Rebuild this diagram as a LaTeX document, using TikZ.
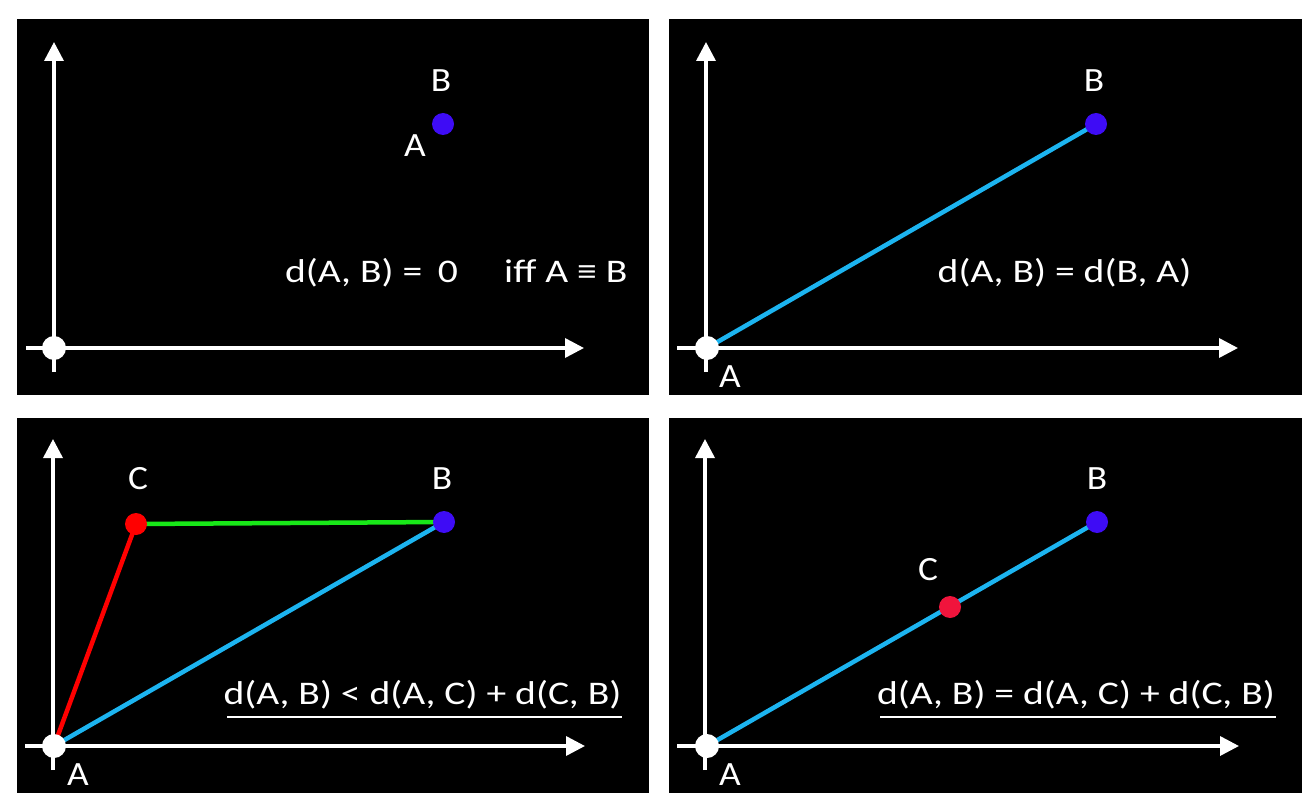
\documentclass[tikz,border=0pt]{standalone}
\usepackage{fontspec}
\usepackage{graphicx}
\setmainfont{Carlito}
\usetikzlibrary{arrows.meta}
\definecolor{lineblue}{RGB}{28,180,240}
\definecolor{dotblue}{RGB}{62,12,245}
\definecolor{dotred}{RGB}{255,0,0}
\definecolor{dotcrimson}{RGB}{240,20,60}
\definecolor{linegreen}{RGB}{24,232,24}
\newcommand{\formula}[1]{\fontsize{33}{38}\selectfont\scalebox{1.2}[1]{#1}}
\newcommand{\lbl}[1]{\fontsize{34}{40}\selectfont\scalebox{1.1}[1]{#1}}
\tikzset{
  panel/.style={fill=black},
  axis/.style={draw=white, line width=3.5pt, -{Triangle[width=19pt,length=19pt]}},
  label/.style={text=white, inner sep=0pt, anchor=base},
  formtext/.style={text=white, inner sep=0pt, anchor=base},
  origin/.style={fill=white, ellipse dot, draw=none},
  ellipse dot/.style={circle, minimum size=24pt, inner sep=0pt},
  bdot/.style={circle, fill=dotblue, minimum size=22pt, inner sep=0pt},
  cdot/.style={circle, fill=#1, minimum size=22pt, inner sep=0pt},
  seg/.style={line width=4.5pt, draw=#1},
  uline/.style={draw=white, line width=1.5pt}
}
\begin{document}
\begin{tikzpicture}[x=1pt,y=-1pt]
\useasboundingbox (0,0) rectangle (1314,810);
\fill[white] (0,0) rectangle (1314,810);
\fill[panel] (17,19) rectangle (649,395);
\fill[panel] (669,19) rectangle (1302,395);
\fill[panel] (17,418) rectangle (649,793);
\fill[panel] (669,418) rectangle (1302,793);

% ---------- panel 1 ----------
\coordinate (p1yb) at (54,372);
\coordinate (p1yt) at (54,42);
\coordinate (p1xl) at (26,348);
\coordinate (p1xr) at (584,348);
\draw[axis] (p1yb) -- (p1yt);
\draw[axis] (p1xl) -- (p1xr);
\node[origin] (p1O) at (54,348) {};
\node[bdot] (p1B) at (443,124) {};
\node[label] (p1Bl) at (441,92) {\lbl{B}};
\node[label] (p1Al) at (415,157) {\lbl{A}};
\node[formtext, anchor=base west] (p1f1) at (285,283) {\formula{d(A, B) =}};
\node[formtext] (p1f2) at (448,283) {\formula{0}};
\node[formtext, anchor=base west] (p1f3) at (504,283) {\formula{iff A ≡ B}};

% ---------- panel 2 ----------
\coordinate (p2yb) at (706,372);
\coordinate (p2yt) at (706,42);
\coordinate (p2xl) at (677,348);
\coordinate (p2xr) at (1238,348);
\coordinate (p2Ac) at (707,348);
\coordinate (p2Bc) at (1096,124);
\draw[axis] (p2yb) -- (p2yt);
\draw[axis] (p2xl) -- (p2xr);
\draw[seg=lineblue] (p2Ac) -- (p2Bc);
\node[origin] (p2O) at (p2Ac) {};
\node[bdot] (p2B) at (p2Bc) {};
\node[label] (p2Bl) at (1094,92) {\lbl{B}};
\node[label] (p2Al) at (730,387) {\lbl{A}};
\node[formtext] (p2f) at (1064.5,283) {\formula{d(A, B) = d(B, A)}};

% ---------- panel 3 ----------
\coordinate (p3yb) at (53,770);
\coordinate (p3yt) at (53,439);
\coordinate (p3xl) at (25,746);
\coordinate (p3xr) at (585,746);
\coordinate (p3Ac) at (54,746);
\coordinate (p3Bc) at (444,522);
\coordinate (p3Cc) at (136,524);
\draw[axis] (p3yb) -- (p3yt);
\draw[axis] (p3xl) -- (p3xr);
\draw[seg=lineblue] (p3Ac) -- (p3Bc);
\draw[seg=dotred] (p3Ac) -- (p3Cc);
\draw[seg=linegreen] (p3Cc) -- (p3Bc);
\node[origin] (p3O) at (p3Ac) {};
\node[bdot] (p3B) at (p3Bc) {};
\node[cdot=dotred] (p3C) at (p3Cc) {};
\node[label] (p3Cl) at (138,489) {\lbl{C}};
\node[label] (p3Bl) at (442,489) {\lbl{B}};
\node[label] (p3Al) at (78,785) {\lbl{A}};
\node[formtext] (p3f) at (422.5,704) {\formula{d(A, B) < d(A, C) + d(C, B)}};
\coordinate (p3ul) at (227,717);
\coordinate (p3ur) at (622,717);
\draw[uline] (p3ul) -- (p3ur);

% ---------- panel 4 ----------
\coordinate (p4yb) at (705,770);
\coordinate (p4yt) at (705,439);
\coordinate (p4xl) at (677,746);
\coordinate (p4xr) at (1239,746);
\coordinate (p4Ac) at (707,746);
\coordinate (p4Bc) at (1097,522);
\coordinate (p4Cc) at (950,607);
\draw[axis] (p4yb) -- (p4yt);
\draw[axis] (p4xl) -- (p4xr);
\draw[seg=lineblue] (p4Ac) -- (p4Bc);
\node[origin] (p4O) at (p4Ac) {};
\node[bdot] (p4B) at (p4Bc) {};
\node[cdot=dotcrimson] (p4C) at (p4Cc) {};
\node[label] (p4Cl) at (928,580) {\lbl{C}};
\node[label] (p4Bl) at (1097,489) {\lbl{B}};
\node[label] (p4Al) at (730,785) {\lbl{A}};
\node[formtext] (p4f) at (1076,704) {\formula{d(A, B) = d(A, C) + d(C, B)}};
\coordinate (p4ul) at (880,717);
\coordinate (p4ur) at (1276,717);
\draw[uline] (p4ul) -- (p4ur);
\end{tikzpicture}
\end{document}
